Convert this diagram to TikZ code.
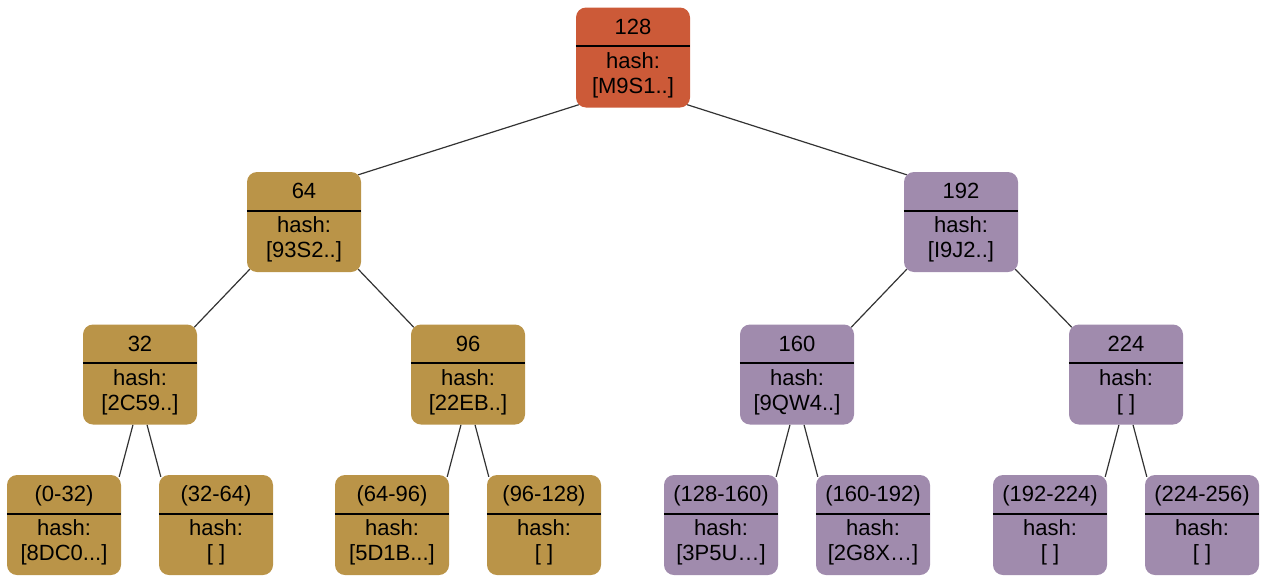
\documentclass[tikz,border=0pt]{standalone}
\usepackage{fontspec}
\setmainfont{Liberation Sans}
\usetikzlibrary{calc,backgrounds}
\definecolor{rootfill}{HTML}{CC5A38}
\definecolor{goldfill}{HTML}{BA9448}
\definecolor{lilacfill}{HTML}{A08BAD}
\definecolor{edgegray}{HTML}{333333}

% one tree node: rounded box, key on top, divider, hash value below
\newcommand\treenode[6]{%
  \node[box, fill=#4] (#1) at (#2,#3) {};
  \draw[divider] ($(#1.north west)+(0,-39)$) -- ($(#1.north east)+(0,-39)$);
  \node[txt] (#1-k) at ($(#1.north)+(0,-27)$) {#5};
  \node[txt] (#1-h) at ($(#1.north)+(0,-61)$) {hash:};
  \node[txt] (#1-v) at ($(#1.north)+(0,-86)$) {#6};
}

\begin{document}
\begin{tikzpicture}[x=1pt, y=1pt,
  box/.style={rectangle, rounded corners=10pt, minimum width=114pt,
    minimum height=100pt, inner sep=0pt, draw=none},
  txt/.style={anchor=base, inner sep=0pt, font=\fontsize{22}{26}\selectfont},
  divider/.style={line width=2pt, black},
  edge/.style={draw=edgegray, line width=1.2pt}]
\useasboundingbox (0,0) rectangle (1261,-576);

% root
\treenode{r}{633}{-57.5}{rootfill}{128}{[M9S1..]}
% second level
\treenode{a}{304}{-222}{goldfill}{64}{[93S2..]}
\treenode{b}{961}{-222}{lilacfill}{192}{[I9J2..]}
% third level
\treenode{aa}{140}{-374.5}{goldfill}{32}{[2C59..]}
\treenode{ab}{468}{-374.5}{goldfill}{96}{[22EB..]}
\treenode{ba}{797}{-374.5}{lilacfill}{160}{[9QW4..]}
\treenode{bb}{1126}{-374.5}{lilacfill}{224}{[ ]}
% leaves
\treenode{l1}{64}{-525}{goldfill}{(0-32)}{[8DC0...]}
\treenode{l2}{216}{-525}{goldfill}{(32-64)}{[ ]}
\treenode{l3}{392}{-525}{goldfill}{(64-96)}{[5D1B...]}
\treenode{l4}{544}{-525}{goldfill}{(96-128)}{[ ]}
\treenode{l5}{721}{-525}{lilacfill}{(128-160)}{[3P5U…]}
\treenode{l6}{873}{-525}{lilacfill}{(160-192)}{[2G8X…]}
\treenode{l7}{1050}{-525}{lilacfill}{(192-224)}{[ ]}
\treenode{l8}{1202}{-525}{lilacfill}{(224-256)}{[ ]}

\begin{pgfonlayer}{background}
  % inner edges, corner to corner
  \draw[edge] ($(r.south west)+(3,3)$) -- ($(a.north east)+(-3,-3)$);
  \draw[edge] ($(r.south east)+(-3,3)$) -- ($(b.north west)+(3,-3)$);
  \draw[edge] ($(a.south west)+(3,3)$) -- ($(aa.north east)+(-3,-3)$);
  \draw[edge] ($(a.south east)+(-3,3)$) -- ($(ab.north west)+(3,-3)$);
  \draw[edge] ($(b.south west)+(3,3)$) -- ($(ba.north east)+(-3,-3)$);
  \draw[edge] ($(b.south east)+(-3,3)$) -- ($(bb.north west)+(3,-3)$);
  % edges down to the leaves
  \draw[edge] ($(aa.south)+(-7,0)$) -- ($(l1.north east)+(-2,-2)$);
  \draw[edge] ($(aa.south)+(7,0)$) -- ($(l2.north west)+(2,-2)$);
  \draw[edge] ($(ab.south)+(-7,0)$) -- ($(l3.north east)+(-2,-2)$);
  \draw[edge] ($(ab.south)+(7,0)$) -- ($(l4.north west)+(2,-2)$);
  \draw[edge] ($(ba.south)+(-7,0)$) -- ($(l5.north east)+(-2,-2)$);
  \draw[edge] ($(ba.south)+(7,0)$) -- ($(l6.north west)+(2,-2)$);
  \draw[edge] ($(bb.south)+(-7,0)$) -- ($(l7.north east)+(-2,-2)$);
  \draw[edge] ($(bb.south)+(7,0)$) -- ($(l8.north west)+(2,-2)$);
\end{pgfonlayer}
\end{tikzpicture}
\end{document}
